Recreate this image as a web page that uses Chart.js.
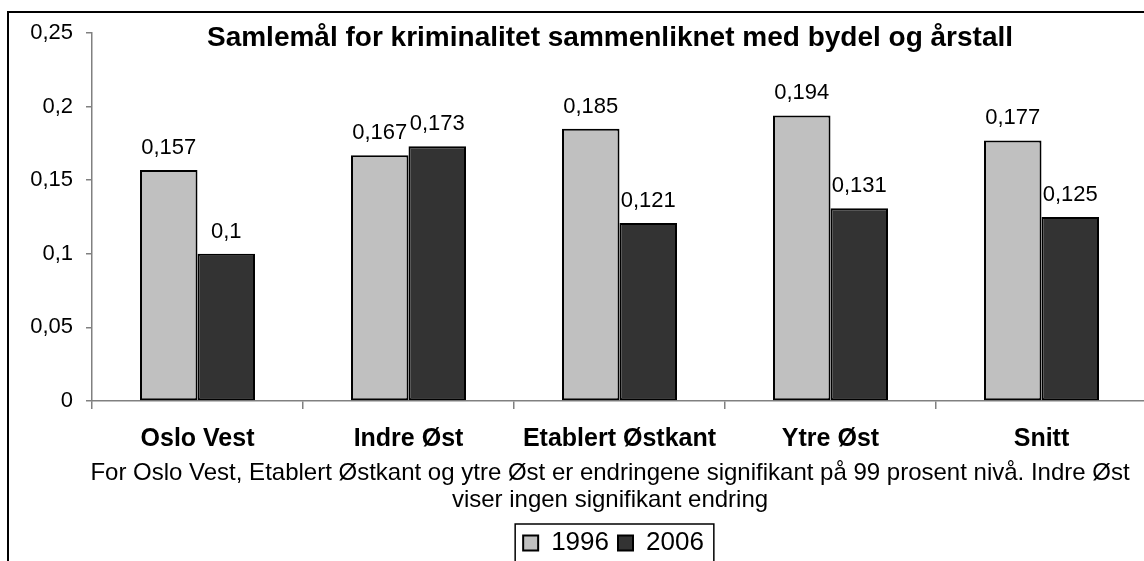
<!DOCTYPE html>
<html>
<head>
<meta charset="utf-8">
<script src="https://cdn.jsdelivr.net/npm/chart.js@4/dist/chart.umd.min.js"></script>
<style>
html, body { margin: 0; padding: 0; background: #fff; overflow: hidden; }
#chart { position: absolute; left: 0; top: 0; }
</style>
</head>
<body>
<canvas id="chart" width="1147" height="566"></canvas>
<script>
var categories = ['Oslo Vest', 'Indre Øst', 'Etablert Østkant', 'Ytre Øst', 'Snitt'];
var values1996 = [0.157, 0.167, 0.185, 0.194, 0.177];
var values2006 = [0.1, 0.173, 0.121, 0.131, 0.125];
var yTickLabels = ['0', '0,05', '0,1', '0,15', '0,2', '0,25'];
var chartTitle = 'Samlemål for kriminalitet sammenliknet med bydel og årstall';
var axisNote = [
    'For Oslo Vest, Etablert Østkant og ytre Øst er endringene signifikant på 99 prosent nivå. Indre Øst',
    'viser ingen signifikant endring'
];

var fontFamily = '"Liberation Sans", Arial, sans-serif';
Chart.defaults.font.family = fontFamily;
Chart.defaults.color = '#000';

// border, title, value labels, note and legend frame
var extras = {
    id: 'extras',
    afterLayout: function(chart) {
        // legend sits centred under the whole frame, not the plot
        chart.legend.left = 80;
        chart.legend.right = chart.width;
        chart.legend.width = chart.legend.right - chart.legend.left;
    },
    beforeDraw: function(chart) {
        var ctx = chart.ctx;
        ctx.save();
        ctx.strokeStyle = '#000';
        ctx.lineWidth = 2;
        ctx.strokeRect(8, 12, chart.width + 20, chart.height + 20);
        ctx.restore();
    },
    afterDraw: function(chart) {
        var ctx = chart.ctx;
        ctx.save();
        ctx.fillStyle = '#000';
        ctx.textAlign = 'center';
        ctx.textBaseline = 'alphabetic';

        ctx.font = '22px ' + fontFamily;
        chart.data.datasets.forEach(function(ds, i) {
            chart.getDatasetMeta(i).data.forEach(function(bar, j) {
                ctx.fillText(String(ds.data[j]).replace('.', ','), bar.x, bar.y - 16);
            });
        });

        ctx.font = 'bold 28px ' + fontFamily;
        ctx.fillText(chartTitle, 610, 46);

        ctx.font = '24px ' + fontFamily;
        ctx.fillText(axisNote[0], 610, 480);
        ctx.fillText(axisNote[1], 610, 507);

        var hb = chart.legend.legendHitBoxes;
        if (hb && hb.length) {
            var first = hb[0], last = hb[hb.length - 1];
            ctx.strokeStyle = '#000';
            ctx.lineWidth = 1.5;
            ctx.strokeRect(first.left - 8, first.top - 6, last.left + last.width - first.left + 18, 80);
        }
        ctx.restore();
    }
};

new Chart(document.getElementById('chart'), {
    type: 'bar',
    data: {
        labels: categories,
        datasets: [{
            label: '1996',
            data: values1996,
            backgroundColor: '#c0c0c0',
            borderColor: '#000',
            borderWidth: 2,
            borderSkipped: false
        }, {
            label: '2006',
            data: values2006,
            backgroundColor: '#333333',
            borderColor: '#000',
            borderWidth: 2,
            borderSkipped: false
        }]
    },
    options: {
        responsive: false,
        animation: false,
        categoryPercentage: 0.545,
        barPercentage: 1,
        layout: { padding: { left: 0, right: 0, top: 33, bottom: 0 } },
        scales: {
            x: {
                grid: { drawOnChartArea: false, offset: true, tickLength: 8, color: '#808080', lineWidth: 1.5 },
                border: { color: '#808080', width: 1.5 },
                ticks: { font: { size: 25, weight: 'bold' }, color: '#000', padding: 15 },
                afterFit: function(s) {
                    s.height = s.chart.height - 401 - s.chart.legend.height;
                }
            },
            y: {
                min: 0,
                max: 0.25,
                ticks: {
                    stepSize: 0.05,
                    font: { size: 22 },
                    color: '#000',
                    padding: 13,
                    callback: function(v, i) { return yTickLabels[i]; }
                },
                grid: { drawOnChartArea: false, tickLength: 6, color: '#808080', lineWidth: 1.5 },
                border: { color: '#808080', width: 1.5 },
                afterFit: function(s) { s.width = 92; }
            }
        },
        plugins: {
            title: { display: false },
            tooltip: { enabled: false },
            legend: {
                position: 'bottom',
                labels: {
                    boxWidth: 15,
                    boxHeight: 15,
                    padding: 9,
                    font: { size: 26 },
                    color: '#000'
                }
            }
        }
    },
    plugins: [extras]
});
</script>
</body>
</html>
